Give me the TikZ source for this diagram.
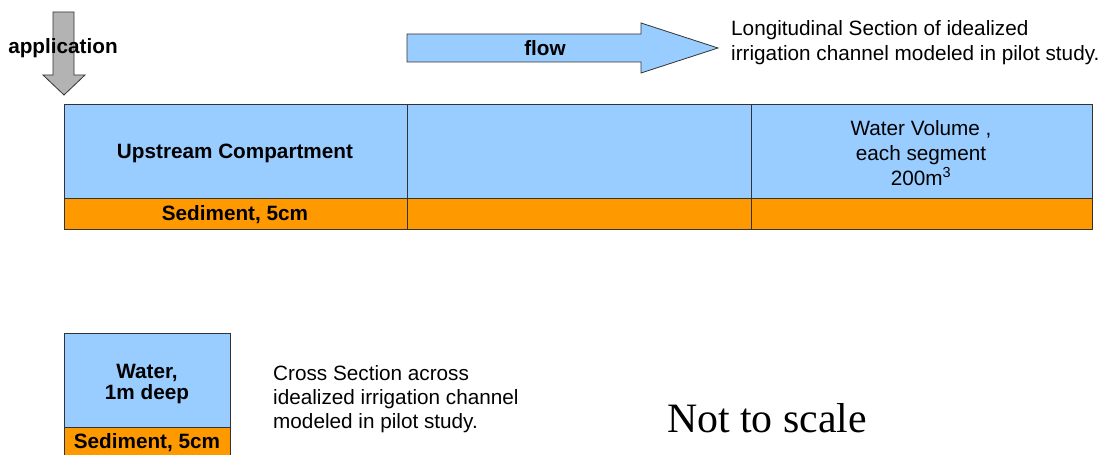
\documentclass[tikz,border=0pt]{standalone}
\usepackage{fontspec}
\setmainfont{Liberation Sans}
\newfontfamily\timesfont{Liberation Serif}

\definecolor{waterblue}{HTML}{99CCFF}
\definecolor{sedimentorange}{HTML}{FF9900}
\definecolor{pipegray}{HTML}{B3B3B3}
\definecolor{edgegray}{HTML}{333333}

\tikzset{
  outline/.style={draw=edgegray,line width=1bp},
  boldlabel/.style={inner sep=0pt,align=center,font=\fontsize{20.8}{21.5}\selectfont\bfseries},
  plainlabel/.style={inner sep=0pt,align=left,font=\fontsize{20.8}{25}\selectfont},
}

\begin{document}
\begin{tikzpicture}[x=1bp,y=-1bp] % one unit per pixel, y pointing down
        \useasboundingbox (0,0) rectangle (1102,455);

        % Channel extent
        \def\chanLeft{64}
        \def\chanRight{1092}
        \def\waterTop{105}
        \def\sedTop{199}
        \def\sedBottom{230}

        % Application arrow
        \filldraw[fill=pipegray,draw=edgegray,line width=0.8bp]
            (53,12) -- (74,12) -- (74,75) -- (85,75) -- (64,95) -- (43,75) -- (53,75) -- cycle;
        \node[boldlabel] (application) at (63,48) {application};

        % Flow arrow
        \filldraw[fill=waterblue,draw=edgegray,line width=0.8bp]
            (407,34) -- (641,34) -- (641,23) -- (718,48) -- (641,73) -- (641,62) -- (407,62) -- cycle;
        \node[boldlabel] (flow) at (545,48) {flow};

        \node[plainlabel,anchor=west] (longnote) at (731,43)
            {Longitudinal Section of idealized\\irrigation channel modeled in pilot study.};

        % Longitudinal section: water over sediment
        \filldraw[fill=waterblue,outline] (\chanLeft,\waterTop) rectangle (\chanRight,\sedTop);
        \filldraw[fill=sedimentorange,outline] (\chanLeft,\sedTop) rectangle (\chanRight,\sedBottom);

        % Segment dividers
        \foreach \x in {407,751} {
            \draw[outline] (\x,\waterTop) -- (\x,\sedBottom);
        }

        \node[boldlabel] (upstream) at (235,153) {Upstream Compartment};
        \node[boldlabel] (sedtop) at (235,215) {Sediment, 5cm};
        \node[plainlabel,align=center] (volume) at (921,153)
            {Water Volume ,\\each segment\\200m\textsuperscript{3}};

        % Cross section
        \begin{scope}
            \clip (0,0) rectangle (1102,455);
            \filldraw[fill=waterblue,outline] (64,334) rectangle (230,428);
            \filldraw[fill=sedimentorange,outline] (64,428) rectangle (230,470);
        \end{scope}

        \node[boldlabel] (water) at (147,384) {Water,\\1m deep};
        \node[boldlabel] (sedcross) at (147,443) {Sediment, 5cm};

        \node[plainlabel,anchor=west,font=\fontsize{20.8}{24}\selectfont] (crossnote) at (273,399)
            {Cross Section across\\idealized irrigation channel\\modeled in pilot study.};

        \node[inner sep=0pt,font=\fontsize{42}{48}\selectfont\timesfont] (scalenote) at (767,418) {Not to scale};

    \end{tikzpicture}
\end{document}
